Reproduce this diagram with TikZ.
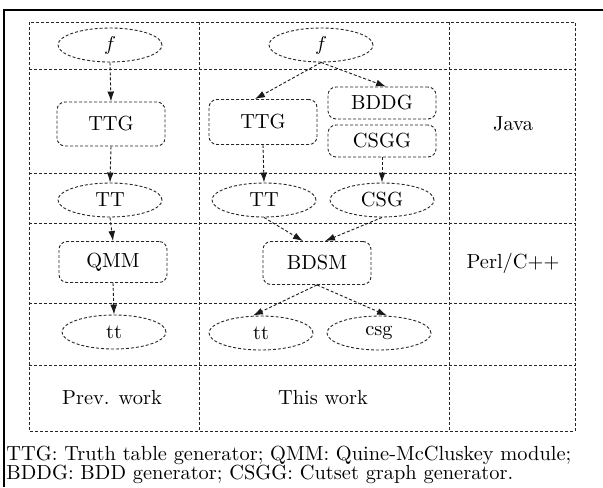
\documentclass[tikz,border=0pt]{standalone}
\usetikzlibrary{arrows.meta,shapes.geometric}
\begin{document}
\begin{tikzpicture}[x=0.5pt,y=-0.5pt,
  gridline/.style={draw=black!85,line width=0.5pt,dash pattern=on 1.5pt off 1pt},
  frameline/.style={draw=black,line width=0.9pt},
  ell/.style={ellipse,draw=black!85,line width=0.45pt,dash pattern=on 1.5pt off 1pt,minimum width=52pt,minimum height=17pt,inner sep=0pt,font=\fontsize{10.2}{12}\selectfont},
  rbox/.style={rectangle,rounded corners=4pt,draw=black!85,line width=0.45pt,dash pattern=on 1.5pt off 1pt,minimum width=54pt,inner sep=0pt,font=\fontsize{10.2}{12}\selectfont},
  lbl/.style={inner sep=0pt,font=\fontsize{10.2}{12}\selectfont},
  arr/.style={draw=black!90,line width=0.45pt,dash pattern=on 1.5pt off 1pt,-{Latex[length=5pt,width=3.4pt]}}
]
\useasboundingbox (0,0) rectangle (603,487);
% outer frame
\draw[frameline] (603,10) -- (4,10) -- (4,487);
% grid
\draw[gridline] (29,22) rectangle (575,431);
\draw[gridline] (199,22) -- (199,431);
\draw[gridline] (449,22) -- (449,431);
\foreach \y in {69,173,223,303,365} \draw[gridline] (29,\y) -- (575,\y);
% nodes left column
\node[ell] (fL) at (110,45) {$f$};
\node[rbox,minimum height=22pt] (TTGL) at (111,124) {TTG};
\node[ell] (TTL) at (110,200) {TT};
\node[rbox,minimum height=20.5pt] (QMM) at (113,262) {QMM};
\node[ell] (ttL) at (114,332) {tt};
% middle column
\node[ell] (fM) at (321,45) {$f$};
\node[rbox,minimum height=22.5pt] (TTGM) at (263,122) {TTG};
\node[rbox,minimum height=16pt] (BDDG) at (382,103) {BDDG};
\node[rbox,minimum height=16pt] (CSGG) at (382,141) {CSGG};
\node[ell] (TTM) at (264,200) {TT};
\node[ell] (CSG) at (382,200) {CSG};
\node[rbox,minimum height=21.5pt] (BDSM) at (317,263) {BDSM};
\node[ell] (ttM) at (261,333) {tt};
\node[ell] (csg) at (379,333) {csg};
% labels
\node[lbl] (prev) at (112,398) {Prev. work};
\node[lbl] (this) at (323,398) {This work};
\node[lbl] (java) at (513,124) {Java};
\node[lbl] (perl) at (513,263) {Perl/C++};
% caption
\node[lbl,anchor=base west] (cap1) at (6,460) {TTG: Truth table generator; QMM: Quine-McCluskey module;};
\node[lbl,anchor=base west] (cap2) at (6,479) {BDDG: BDD generator; CSGG: Cutset graph generator.};
% arrows
\draw[arr] (fL.south) -- (TTGL.north);
\draw[arr] (TTGL.south) -- (TTL.north);
\draw[arr] (TTL.south) -- (QMM.north);
\draw[arr] (QMM.south) -- (ttL.north);
\draw[arr] (fM.south) -- ([xshift=-4pt]TTGM.north);
\draw[arr] (fM.south) -- ([xshift=2pt]BDDG.north);
\draw[arr] (TTGM.south) -- (TTM.north);
\draw[arr] (CSGG.south) -- (CSG.north);
\draw[arr] (TTM.south) -- ([xshift=-7pt]BDSM.north);
\draw[arr] (CSG.south) -- ([xshift=4pt]BDSM.north);
\draw[arr] (BDSM.south) -- ([xshift=-4pt]ttM.north);
\draw[arr] (BDSM.south) -- ([xshift=4pt]csg.north);
\end{tikzpicture}
\end{document}
